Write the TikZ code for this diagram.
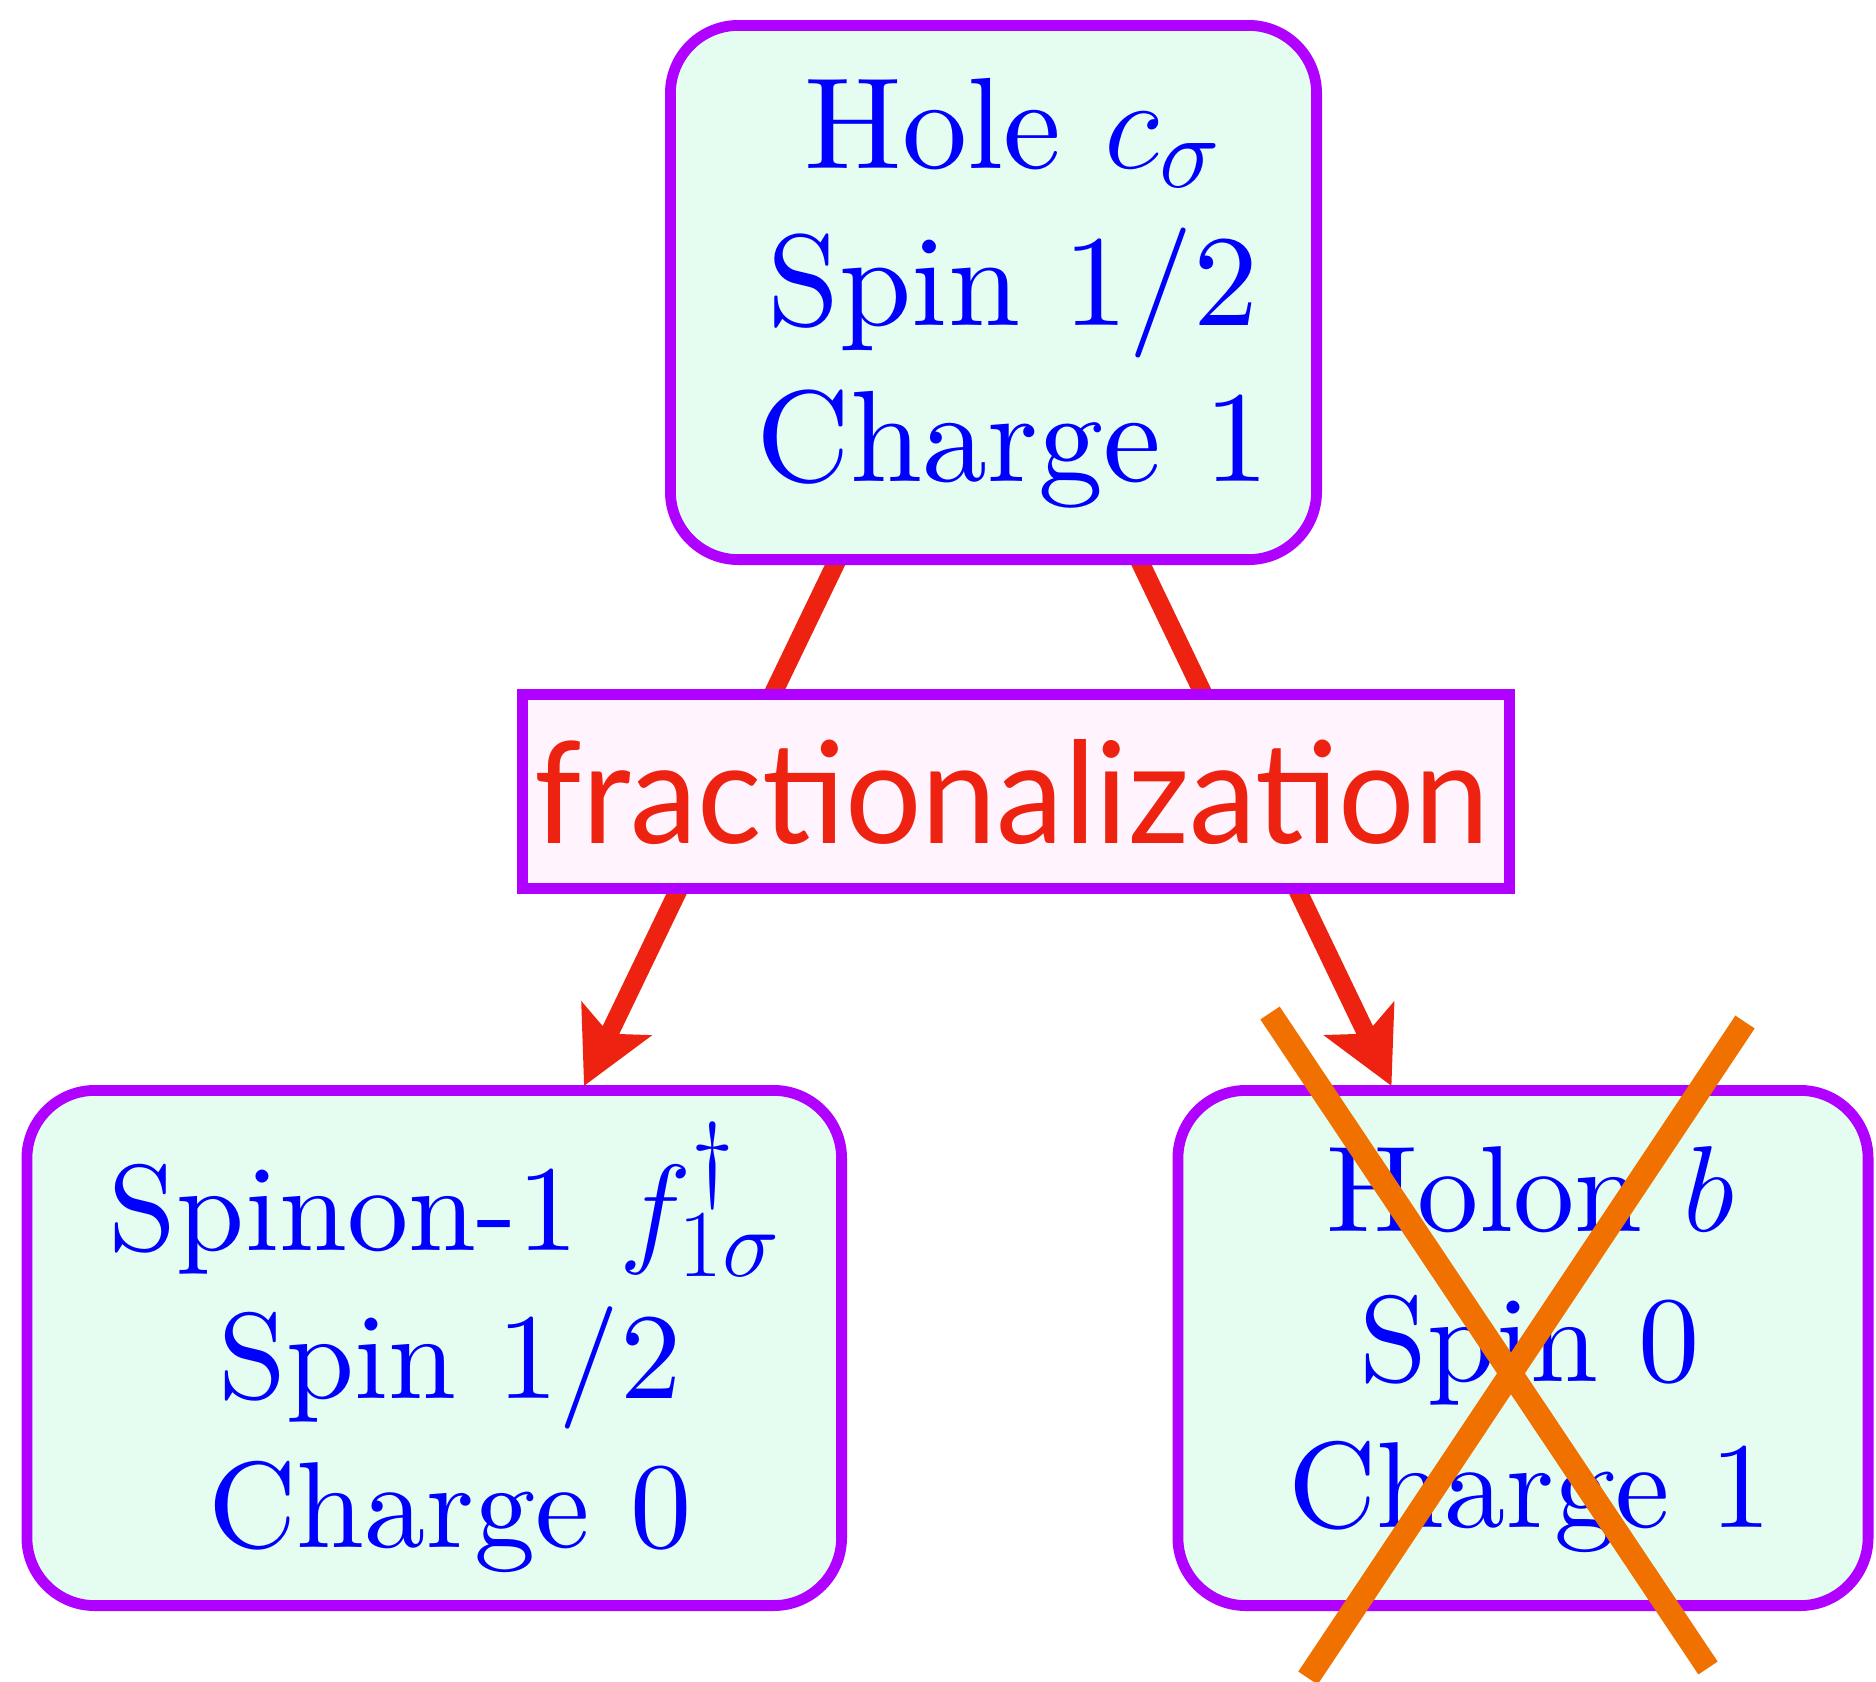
\documentclass[tikz,border=0pt]{standalone}
\usepackage{fix-cm}
\usepackage{fontspec}
\setmainfont{lmroman10-regular}[Extension=.otf, ItalicFont=lmroman10-italic, BoldFont=lmroman10-bold]
\newfontfamily\fracfont{Lato}
\DeclareMathSizes{32.5}{32.5}{25.5}{19}
\DeclareMathSizes{30.6}{30.6}{24}{18}
\usetikzlibrary{arrows.meta,backgrounds}
\definecolor{boxline}{HTML}{B000FF}
\definecolor{mintfill}{HTML}{E4FDF0}
\definecolor{pinkfill}{HTML}{FFF4FD}
\definecolor{textblue}{HTML}{0000FF}
\definecolor{arrred}{HTML}{EE2211}
\definecolor{crossorange}{HTML}{F07000}
\begin{document}
\begin{tikzpicture}[x=0.25pt,y=-0.25pt,
  pbox/.style={draw=boxline, line width=2.7pt, fill=mintfill, rounded corners=17pt, inner sep=0pt},
  fbox/.style={draw=boxline, line width=2.7pt, fill=pinkfill, inner sep=0pt},
  ptext/.style={text=textblue, anchor=base, inner sep=0pt},
  bigfont/.style={font=\fontsize{32.5}{39}\selectfont},
  smallfont/.style={font=\fontsize{30.6}{37}\selectfont},
  arr/.style={draw=arrred, line width=4.6pt, -{Stealth[length=18.5pt,width=19pt,inset=4pt]}},
  crossline/.style={draw=crossorange, line width=5.8pt}]
\useasboundingbox (0,0) rectangle (1876,1682);
\clip (0,0) rectangle (1876,1682);
% boxes
\node[pbox, minimum width=161.55pt, minimum height=133.55pt] (top) at (993.5,292.5) {};
\node[pbox, minimum width=203.675pt, minimum height=128.8pt] (left) at (434.25,1348) {};
\node[pbox, minimum width=172.55pt, minimum height=128.8pt] (right) at (1523,1348) {};
\node[fbox, minimum width=246.8pt, minimum height=48.55pt] (frac) at (1016,791.5) {};
% texts
\node[ptext, bigfont] (t1) at (1013,168) {Hole $c_\sigma$};
\node[ptext, bigfont] (t2) at (1013,325) {Spin 1/2};
\node[ptext, bigfont] (t3) at (1013,481) {Charge 1};
\node[ptext, smallfont] (l1) at (445,1250) {Spinon-1 $f^\dagger_{1\sigma}$};
\node[ptext, smallfont] (l2) at (450,1398) {Spin 1/2};
\node[ptext, smallfont] (l3) at (450,1547) {Charge 0};
\node[ptext, smallfont] (r1) at (1530,1231) {Holon $b$};
\node[ptext, smallfont] (r2) at (1530,1381) {Spin 0};
\node[ptext, smallfont] (r3) at (1530,1527) {Charge 1};
\node[anchor=base, inner sep=0pt, text=arrred] (ft) at (1012.5,843.5) {\resizebox{238.75pt}{26pt}{\fracfont fractionalization}};
% arrows
\coordinate (s1) at (847,540);
\coordinate (e1) at (584,1086);
\coordinate (s2) at (1129.5,540);
\coordinate (e2) at (1391.5,1086);
\begin{scope}[on background layer]
\draw[arr] (s1) -- (e1);
\draw[arr] (s2) -- (e2);
\end{scope}
% cross
\coordinate (c1a) at (1270,1013);
\coordinate (c1b) at (1708,1668);
\coordinate (c2a) at (1745,1022);
\coordinate (c2b) at (1308,1678);
\draw[crossline] (c1a) -- (c1b);
\draw[crossline] (c2a) -- (c2b);
\end{tikzpicture}
\end{document}
